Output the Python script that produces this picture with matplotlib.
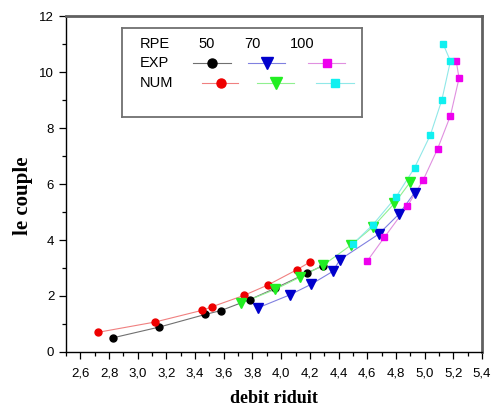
import numpy as np
import matplotlib
matplotlib.use('Agg')
import matplotlib.pyplot as plt
from matplotlib.ticker import MultipleLocator, FuncFormatter

# EXP / NUM curves for RPE 50, 70, 100
exp50_x = [2.83, 3.15, 3.47, 3.58, 3.78, 3.96, 4.18, 4.29]
exp50_y = [0.51, 0.89, 1.34, 1.48, 1.87, 2.28, 2.82, 3.08]
num50_x = [2.72, 3.12, 3.45, 3.52, 3.74, 3.91, 4.11, 4.20]
num50_y = [0.70, 1.07, 1.49, 1.62, 2.02, 2.40, 2.94, 3.21]

exp70_x = [3.84, 4.06, 4.21, 4.36, 4.41, 4.68, 4.82, 4.93]
exp70_y = [1.58, 2.04, 2.42, 2.88, 3.30, 4.21, 4.92, 5.69]
num70_x = [3.72, 3.96, 4.13, 4.29, 4.49, 4.64, 4.79, 4.90]
num70_y = [1.74, 2.24, 2.67, 3.09, 3.83, 4.47, 5.31, 6.07]

exp100_x = [4.60, 4.72, 4.88, 4.99, 5.09, 5.18, 5.24, 5.22]
exp100_y = [3.25, 4.10, 5.21, 6.14, 7.25, 8.44, 9.78, 10.40]
num100_x = [4.50, 4.64, 4.80, 4.93, 5.04, 5.12, 5.18, 5.13]
num100_y = [3.86, 4.55, 5.53, 6.58, 7.75, 9.00, 10.39, 10.99]

rpe_labels = ['50', '70', '100']

# (x, y, marker, marker colour, line colour, marker size)
series = [
    (exp50_x, exp50_y, 'o', 'black', '#707070', 5),
    (num50_x, num50_y, 'o', '#ee0000', '#f08080', 5),
    (exp70_x, exp70_y, 'v', '#0000cc', '#8080e0', 6.5),
    (num70_x, num70_y, 'v', '#22ee22', '#90f090', 6.5),
    (exp100_x, exp100_y, 's', '#ee00ee', '#e090e0', 4.5),
    (num100_x, num100_y, 's', '#10f0f0', '#90e8e8', 4.5),
]

W, H = 495, 407
fig = plt.figure(figsize=(W / 100, H / 100), dpi=100)
ax = fig.add_axes([66 / W, 1 - 352 / H, (482 - 66) / W, (352 - 16) / H])

for x, y, m, mc, lc, ms in series:
    ax.plot(x, y, color=lc, lw=0.8, zorder=1)
    ax.plot(x, y, ls='none', marker=m, ms=ms, mfc=mc, mec=mc, zorder=2)

ax.set_xlim(2.5, 5.4)
ax.set_ylim(0, 12)
ax.xaxis.set_major_locator(MultipleLocator(0.2))
ax.xaxis.set_minor_locator(MultipleLocator(0.1))
ax.yaxis.set_major_locator(MultipleLocator(2))
ax.yaxis.set_minor_locator(MultipleLocator(1))
ax.xaxis.set_major_formatter(FuncFormatter(
    lambda v, p: '' if v < 2.55 else ('%.1f' % v).replace('.', ',')))
ax.yaxis.set_major_formatter(FuncFormatter(lambda v, p: '%d' % v))
ax.tick_params(which='major', length=5, width=0.9, labelsize=9.5, direction='out')
ax.tick_params(axis='x', which='major', pad=6)
ax.tick_params(which='minor', length=3, width=0.9, direction='out')
for lab in ax.get_xticklabels() + ax.get_yticklabels():
    lab.set_family(['Liberation Sans', 'DejaVu Sans'])

ax.spines['left'].set_linewidth(1.0)
ax.spines['bottom'].set_linewidth(1.0)
ax.spines['top'].set_color('#606060')
ax.spines['top'].set_linewidth(2.0)
ax.spines['right'].set_color('#606060')
ax.spines['right'].set_linewidth(2.0)

ax.set_xlabel('debit riduit', family='Liberation Serif', fontweight='bold',
              fontsize=13)
ax.xaxis.set_label_coords(0.5, -0.113)
ax.set_ylabel('le couple', family='Liberation Serif', fontweight='bold',
              fontsize=15)
ax.yaxis.set_label_coords(-0.079, 0.464)

# hand-made legend table in pixel coordinates
lg = fig.add_axes([122 / W, 1 - 117 / H, 240 / W, 89 / H])
lg.set_xlim(122, 362)
lg.set_ylim(117, 28)
lg.set_xticks([])
lg.set_yticks([])
for s in lg.spines.values():
    s.set_color('#707070')
    s.set_linewidth(1.3)

tfont = dict(family=['Liberation Sans', 'DejaVu Sans'], fontsize=10.5, va='center')
lg.text(140, 44, 'RPE', ha='left', **tfont)
lg.text(140, 63, 'EXP', ha='left', **tfont)
lg.text(140, 83, 'NUM', ha='left', **tfont)
col_x = [207, 252, 302]
for cx, lab in zip(col_x, rpe_labels):
    lg.text(cx, 44, lab, ha='center', **tfont)

exp_pos = [(193, 231, 212), (248, 285, 267), (308, 345, 327)]
num_pos = [(202, 238, 221), (257, 294, 276), (316, 354, 335)]
for k in range(3):
    for row_y, pos, (x, y, m, mc, lc, ms) in ((63, exp_pos[k], series[2 * k]),
                                               (83, num_pos[k], series[2 * k + 1])):
        lg.plot([pos[0], pos[1]], [row_y, row_y], color=lc, lw=0.8)
        lg.plot([pos[2]], [row_y], ls='none', marker=m, ms=ms + 1.5,
                mfc=mc, mec=mc)

fig.savefig('out.png', dpi=100)
